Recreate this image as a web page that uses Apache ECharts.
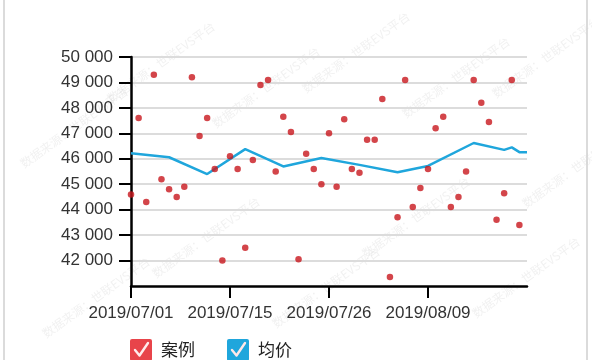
<!DOCTYPE html>
<html><head><meta charset="utf-8">
<script src="https://cdn.jsdelivr.net/npm/echarts@6/dist/echarts.min.js"></script>
<style>html,body{margin:0;padding:0;background:#fff}#c{width:592px;height:360px}</style>
</head><body><div id="c"></div>
<script>
// x positions are case order index (category slots)
var xTickIdx = [0, 13, 26, 39];
var xTickLabels = ['2019/07/01', '2019/07/15', '2019/07/26', '2019/08/09'];
var yTicks = [42000, 43000, 44000, 45000, 46000, 47000, 48000, 49000, 50000];
var caseValues = [44600,47600,44300,49300,45200,44800,44500,44900,49200,46900,
                  47600,45600,42000,46100,45600,42500,45950,48900,49100,45500,
                  47650,47050,42050,46200,45600,45000,47000,44900,47550,45600,
                  45450,46750,46750,48350,41350,43700,49100,44100,44850,45600,
                  47200,47650,44100,44500,45500,49100,48200,47450,43600,44650,
                  49100,43400];
var avgIdx = [0, 5, 10, 15, 20, 25, 30, 35, 39, 45, 49, 50, 51, 52];
var avgValues = [46220,46060,45400,46380,45700,46030,45760,45470,45720,46620,46350,46450,46260,46260];
var seriesNames = ['案例', '均价'];

function icon(color){
  var svg = "<svg xmlns='http://www.w3.org/2000/svg' width='24' height='24'><rect x='1' y='1' width='22' height='22' rx='2' fill='" + color + "'/><path d='M6 12 L10.5 17.5 L19 5' stroke='#ffe8e8' stroke-width='2.4' fill='none' stroke-linecap='round' stroke-linejoin='round'/></svg>";
  return 'image://data:image/svg+xml;charset=utf-8,' + encodeURIComponent(svg);
}
function fmt(v){ var s = String(v); return s.length > 3 ? s.slice(0, s.length-3) + ' ' + s.slice(-3) : s; }

var wm = [];
var wmPos = [[18,160],[105,95],[210,120],[300,85],[400,110],[490,90],[40,330],[150,270],[270,320],[360,250],[470,310],[520,200]];
wmPos.forEach(function(p){
  wm.push({type:'text', x:p[0], y:p[1], rotation:0.62, silent:true,
    style:{text:'数据来源：世联EVS平台', fill:'rgba(150,150,150,0.13)', font:'12px "Noto Sans CJK SC"'}});
});
wm.push({type:'rect', silent:true, shape:{x:4,y:-5,width:583,height:400}, style:{fill:'none', stroke:'#cfcfcf', lineWidth:1.5}});

var chart = echarts.init(document.getElementById('c'), null, {renderer:'canvas'});
chart.setOption({
  animation:false,
  backgroundColor:'#fff',
  grid:{left:131, right:65, top:57, bottom:74},
  legend:{
    left:129, top:338, padding:0, itemWidth:24, itemHeight:24, itemGap:31,
    textStyle:{fontSize:17, color:'#222', fontFamily:'"Noto Sans CJK SC", sans-serif', padding:[0,0,0,3]},
    data:[{name:seriesNames[0], icon:icon('#e3161d')},{name:seriesNames[1], icon:icon('#1fa6dc')}]
  },
  xAxis:{
    type:'value', min:0, max:52,
    axisLine:{onZero:false, lineStyle:{color:'#000', width:2.5}},
    axisTick:{customValues:xTickIdx, length:12, lineStyle:{color:'#000', width:2}},
    axisLabel:{customValues:xTickIdx, margin:19, fontSize:17, color:'#333', fontFamily:'"Liberation Sans", Arial, sans-serif',
      formatter:function(v){ var i = xTickIdx.indexOf(v); return i >= 0 ? xTickLabels[i] : ''; }},
    splitLine:{show:false}
  },
  yAxis:{
    type:'value', min:41000, max:50000, interval:1000,
    axisLine:{show:true, onZero:false, lineStyle:{color:'#000', width:2.5}},
    axisTick:{show:true, customValues:yTicks, length:12, lineStyle:{color:'#000', width:2}},
    axisLabel:{customValues:yTicks, margin:18, fontSize:17, color:'#333', fontFamily:'"Liberation Sans", Arial, sans-serif',
      formatter:function(v){ return fmt(v); }},
    splitLine:{lineStyle:{color:'#dcdcdc', width:2}}
  },
  series:[
    {name:seriesNames[0], type:'scatter', symbolSize:6.5, itemStyle:{color:'#c8161d'},
     data:caseValues.map(function(v,i){ return [i, v]; }), z:3},
    {name:seriesNames[1], type:'line', showSymbol:false, symbol:'none', lineStyle:{color:'#1fa6dc', width:2.5}, itemStyle:{color:'#1fa6dc'},
     data:avgIdx.map(function(k,i){ return [k, avgValues[i]]; }), z:2}
  ],
  graphic:wm
});
</script></body></html>
